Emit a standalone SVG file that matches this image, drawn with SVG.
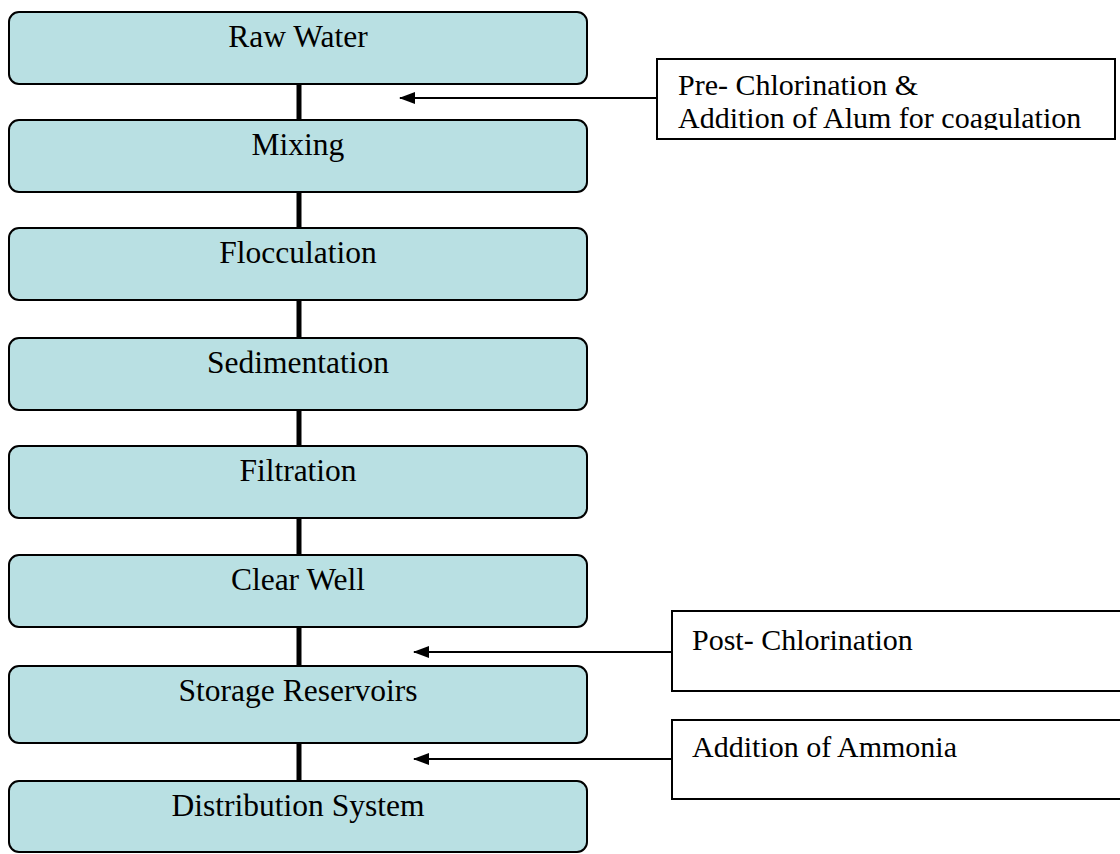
<svg xmlns="http://www.w3.org/2000/svg" width="1120" height="854" viewBox="0 0 1120 854">
<defs>
<style>
.step rect{fill:#b9e0e3;stroke:#000;stroke-width:2}
.note rect{fill:#fff;stroke:#000;stroke-width:2}
text{font-family:"Liberation Serif","Times New Roman",serif;font-size:30px;fill:#000}
.step text{text-anchor:middle;font-size:31.5px}
.flow{stroke:#000;stroke-width:5;fill:none}
.feed{stroke:#000;stroke-width:2;fill:none}
</style>
<marker id="ah" markerWidth="16" markerHeight="12" refX="15" refY="6" orient="auto" markerUnits="userSpaceOnUse">
<path d="M0,0 L16,6 L0,12 Z" fill="#000"/>
</marker>
<clipPath id="preClip"><rect x="657" y="59" width="458" height="71"/></clipPath>
</defs>
<rect width="1120" height="854" fill="#fff"/>
<g id="connectors">
<line class="flow" x1="299" y1="84" x2="299" y2="120"/>
<line class="flow" x1="299" y1="192" x2="299" y2="228"/>
<line class="flow" x1="299" y1="300" x2="299" y2="338"/>
<line class="flow" x1="299" y1="410" x2="299" y2="446"/>
<line class="flow" x1="299" y1="518" x2="299" y2="555"/>
<line class="flow" x1="299" y1="627" x2="299" y2="668"/>
<line class="flow" x1="299" y1="743" x2="299" y2="781"/>
<line class="feed" x1="657" y1="98" x2="400" y2="98" marker-end="url(#ah)"/>
<line class="feed" x1="672" y1="652" x2="414" y2="652" marker-end="url(#ah)"/>
<line class="feed" x1="672" y1="759" x2="414" y2="759" marker-end="url(#ah)"/>
</g>
<g id="raw-water" class="step"><rect x="9" y="12" width="578" height="72" rx="10"/><text x="298" y="47">Raw Water</text></g>
<g id="mixing" class="step"><rect x="9" y="120" width="578" height="72" rx="10"/><text x="298" y="155">Mixing</text></g>
<g id="flocculation" class="step"><rect x="9" y="228" width="578" height="72" rx="10"/><text x="298" y="263">Flocculation</text></g>
<g id="sedimentation" class="step"><rect x="9" y="338" width="578" height="72" rx="10"/><text x="298" y="373">Sedimentation</text></g>
<g id="filtration" class="step"><rect x="9" y="446" width="578" height="72" rx="10"/><text x="298" y="481">Filtration</text></g>
<g id="clear-well" class="step"><rect x="9" y="555" width="578" height="72" rx="10"/><text x="298" y="590">Clear Well</text></g>
<g id="storage-reservoirs" class="step"><rect x="9" y="666" width="578" height="77" rx="10"/><text x="298" y="701">Storage Reservoirs</text></g>
<g id="distribution-system" class="step"><rect x="9" y="781" width="578" height="71" rx="10"/><text x="298" y="816">Distribution System</text></g>
<g id="pre-chlorination" class="note"><rect x="657" y="59" width="458" height="80"/>
<g clip-path="url(#preClip)"><text x="678" y="95">Pre- Chlorination &amp;</text><text x="678" y="128">Addition of Alum for coagulation</text></g></g>
<g id="post-chlorination" class="note"><rect x="672" y="611" width="460" height="80"/><text x="692" y="650">Post- Chlorination</text></g>
<g id="ammonia" class="note"><rect x="672" y="720" width="460" height="79"/><text x="692" y="757">Addition of Ammonia</text></g>
</svg>
